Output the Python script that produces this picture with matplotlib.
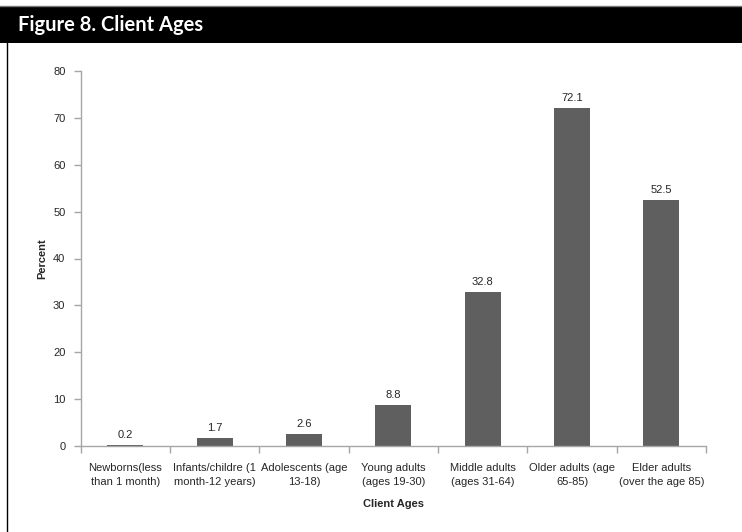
import matplotlib.pyplot as plt
from matplotlib.patches import Rectangle
from matplotlib.lines import Line2D
import numpy as np

# ---- data ----
categories = ["Newborns(less\nthan 1 month)", "Infants/childre (1\nmonth-12 years)",
              "Adolescents (age\n13-18)", "Young adults\n(ages 19-30)",
              "Middle adults\n(ages 31-64)", "Older adults (age\n65-85)",
              "Elder adults\n(over the age 85)"]
percent = [0.2, 1.7, 2.6, 8.8, 32.8, 72.1, 52.5]
yticks = [0, 10, 20, 30, 40, 50, 60, 70, 80]

body_font = ['Liberation Sans Narrow', 'Liberation Sans', 'DejaVu Sans']
text_col = '#262626'
axis_col = '#a6a6a6'

fig = plt.figure(figsize=(7.42, 5.32), dpi=100)

# header bar with the figure title
fig.patches.append(Rectangle((0, 1 - 43/532), 1, 37/532, transform=fig.transFigure,
                             facecolor='black', edgecolor='none', zorder=0))
fig.lines.append(Line2D([0, 1], [1 - 5.5/532]*2, transform=fig.transFigure,
                        color='#777777', lw=1))
fig.text(18/742, 1 - 25/532, "Figure 8. Client Ages", color='white', fontsize=14.5,
         fontweight='bold', family=['Lato', 'DejaVu Sans'], va='center', ha='left')
# left frame line
fig.lines.append(Line2D([7.5/742]*2, [0, 1 - 43/532], transform=fig.transFigure,
                        color='black', lw=1))

ax = fig.add_axes([80.7/742, 1 - 446/532, (706 - 80.7)/742, (446 - 71)/532])
x = np.arange(len(categories))
bars = ax.bar(x, percent, width=0.4, color='#5f5f5f', zorder=2)

for xi, v in zip(x, percent):
    ax.text(xi, v + 1.1, f"{v}", ha='center', va='bottom', fontsize=8,
            color=text_col, family=body_font)

ax.set_xlim(-0.5, len(categories) - 0.5)
ax.set_ylim(0, 80)
ax.set_yticks(yticks)
ax.set_yticklabels([str(t) for t in yticks], family=body_font, fontsize=8, color=text_col)
ax.set_xticks(x)
ax.set_xticklabels(categories, family=body_font, fontsize=8, color=text_col, linespacing=1.5)
ax.tick_params(axis='x', length=0, pad=12)
ax.set_xticks(np.arange(len(categories) + 1) - 0.5, minor=True)
ax.tick_params(axis='x', which='minor', length=5, color=axis_col, width=1)
ax.tick_params(axis='y', length=5, color=axis_col, width=1, pad=6)

for side in ['top', 'right']:
    ax.spines[side].set_visible(False)
for side in ['left', 'bottom']:
    ax.spines[side].set_color(axis_col)
    ax.spines[side].set_linewidth(1)

ax.set_ylabel("Percent", fontsize=8, fontweight='bold', family=body_font,
              color=text_col, labelpad=4)
ax.set_xlabel("Client Ages", fontsize=8, fontweight='bold', family=body_font,
              color=text_col, labelpad=9)

fig.savefig("out.png", dpi=100)
